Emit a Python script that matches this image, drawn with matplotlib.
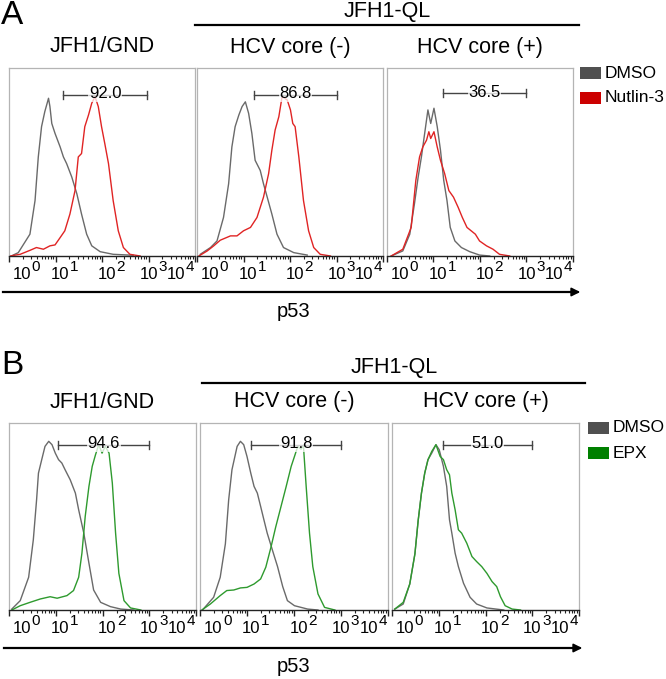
# Flow cytometry p53 histograms, panels A (Nutlin-3) and B (EPX)
import numpy as np
import matplotlib
matplotlib.use("Agg")
import matplotlib.pyplot as plt
from matplotlib.lines import Line2D
from matplotlib.patches import Rectangle
from matplotlib.ticker import LogLocator, NullFormatter

plt.rcParams['font.family'] = ['Liberation Sans', 'DejaVu Sans']

# x values are log10(fluorescence), y values are % of panel height
a1_dmso_x = [0.09, 0.2, 0.45, 0.56, 0.63, 0.70, 0.77, 0.85, 0.88, 0.92, 0.99, 1.10, 1.17, 1.24, 1.35, 1.46, 1.56, 1.67, 1.78, 1.96, 2.24, 2.67]
a1_dmso_y = [0.5, 1.8, 11.6, 29.5, 52.7, 68.8, 76.8, 83.9, 79.5, 70.5, 65.2, 58.0, 52.7, 49.1, 42.0, 33.0, 22.3, 11.6, 5.4, 2.3, 0.9, 0.4]
a1_drug_x = [0.02, 0.24, 0.45, 0.59, 0.74, 0.88, 0.99, 1.10, 1.20, 1.31, 1.42, 1.49, 1.56, 1.63, 1.71, 1.78, 1.85, 1.92, 1.99, 2.06, 2.14, 2.24, 2.35, 2.46, 2.60, 2.82]
a1_drug_y = [0, 0.9, 3.0, 4.5, 3.6, 5.4, 5.9, 9.8, 13.4, 22.3, 34.8, 52.7, 54.5, 68.8, 75.0, 81.3, 84.8, 79.5, 68.8, 59.8, 49.1, 29.5, 13.4, 4.5, 0.9, 0]

a2_dmso_x = [0.07, 0.29, 0.43, 0.57, 0.68, 0.75, 0.82, 0.90, 0.97, 1.04, 1.11, 1.18, 1.25, 1.36, 1.43, 1.51, 1.61, 1.72, 1.86, 2.08, 2.37]
a2_dmso_y = [0.9, 4.5, 8.0, 20.5, 38.4, 58.0, 68.8, 75.0, 79.5, 82.0, 75.9, 65.2, 50.9, 45.5, 38.4, 31.3, 22.3, 11.6, 4.5, 1.8, 0.5]
a2_drug_x = [0.04, 0.22, 0.36, 0.50, 0.72, 0.86, 1.0, 1.15, 1.29, 1.43, 1.54, 1.61, 1.68, 1.76, 1.83, 1.94, 2.01, 2.06, 2.11, 2.19, 2.29, 2.40, 2.51, 2.65, 2.87]
a2_drug_y = [0, 2.7, 5.4, 8.4, 10.7, 10.7, 13.4, 15.2, 20.5, 31.3, 43.8, 56.3, 67.0, 74.1, 84.8, 83.0, 77.7, 70.5, 68.8, 52.7, 29.5, 13.4, 4.5, 0.9, 0]

a3_dmso_x = [0.09, 0.34, 0.49, 0.59, 0.67, 0.74, 0.81, 0.88, 0.94, 1.01, 1.08, 1.15, 1.22, 1.29, 1.36, 1.46, 1.60, 1.78, 1.99, 2.21]
a3_dmso_y = [0, 2.7, 11.6, 27.7, 42.0, 52.7, 65.2, 77.7, 70.5, 78.6, 68.8, 56.3, 40.2, 29.5, 15.2, 8.0, 4.5, 2.3, 0.5, 0]
a3_drug_x = [0.09, 0.34, 0.52, 0.62, 0.70, 0.77, 0.85, 0.90, 0.94, 1.01, 1.08, 1.15, 1.24, 1.33, 1.43, 1.53, 1.62, 1.72, 1.81, 1.90, 1.99, 2.14, 2.28, 2.42, 2.64]
a3_drug_y = [0, 3.6, 15.2, 40.2, 52.7, 58.0, 61.6, 66.1, 62.5, 66.1, 58.0, 50.9, 43.8, 34.8, 31.3, 25.9, 20.5, 15.2, 13.4, 11.6, 8.0, 5.4, 3.6, 0.9, 0]

b1_dmso_x = [0.06, 0.24, 0.42, 0.52, 0.59, 0.63, 0.70, 0.77, 0.85, 0.92, 0.99, 1.06, 1.13, 1.20, 1.31, 1.42, 1.49, 1.60, 1.71, 1.81, 1.96, 2.17, 2.39, 2.67]
b1_dmso_y = [0.5, 5.0, 17.5, 37.5, 58.9, 73.2, 80.4, 87.5, 90.2, 88.4, 83.9, 80.4, 78.6, 75.0, 69.6, 62.5, 53.6, 41.1, 25.0, 10.7, 4.1, 1.8, 0.5, 0]
b1_drug_x = [0.06, 0.24, 0.45, 0.67, 0.88, 1.03, 1.24, 1.38, 1.49, 1.56, 1.63, 1.71, 1.78, 1.85, 1.92, 1.99, 2.06, 2.14, 2.21, 2.28, 2.35, 2.46, 2.60, 2.82]
b1_drug_y = [0, 2.3, 4.1, 5.9, 7.1, 6.3, 7.7, 10.4, 17.5, 30.4, 50.0, 66.1, 76.8, 83.0, 88.4, 83.9, 87.5, 83.9, 67.9, 41.1, 19.6, 5.0, 1.1, 0]

b2_dmso_x = [0.07, 0.29, 0.43, 0.54, 0.61, 0.68, 0.79, 0.86, 0.93, 1.0, 1.08, 1.15, 1.22, 1.29, 1.36, 1.43, 1.54, 1.65, 1.76, 1.86, 2.01, 2.29, 2.51]
b2_dmso_y = [0.5, 6.8, 17.5, 35.4, 58.9, 75.0, 87.5, 90.2, 88.4, 82.1, 73.2, 66.1, 62.5, 55.4, 48.2, 41.1, 32.1, 23.2, 12.5, 5.0, 2.3, 0.5, 0]
b2_drug_x = [0.04, 0.22, 0.43, 0.57, 0.72, 0.86, 1.0, 1.15, 1.29, 1.40, 1.51, 1.61, 1.72, 1.83, 1.94, 2.01, 2.08, 2.15, 2.20, 2.26, 2.33, 2.40, 2.51, 2.65, 2.87]
b2_drug_y = [0, 3.2, 7.7, 10.4, 10.7, 11.8, 12.1, 13.9, 16.6, 22.9, 33.6, 44.3, 55.0, 65.7, 76.8, 82.1, 87.5, 86.0, 88.0, 65.7, 41.1, 23.2, 8.6, 1.4, 0]

b3_dmso_x = [0.06, 0.24, 0.38, 0.49, 0.56, 0.63, 0.70, 0.77, 0.85, 0.94, 1.01, 1.10, 1.17, 1.23, 1.28, 1.35, 1.42, 1.53, 1.67, 1.81, 2.03, 2.39]
b3_dmso_y = [0.5, 3.2, 13.9, 30.0, 47.9, 62.5, 73.2, 80.4, 83.9, 88.4, 85.7, 76.8, 66.1, 48.2, 41.1, 30.4, 23.2, 14.3, 6.8, 3.2, 1.1, 0]
b3_drug_x = [0.06, 0.24, 0.38, 0.49, 0.56, 0.63, 0.70, 0.77, 0.85, 0.94, 1.03, 1.10, 1.17, 1.23, 1.28, 1.35, 1.42, 1.49, 1.60, 1.71, 1.81, 1.92, 2.03, 2.14, 2.24, 2.32, 2.42, 2.57, 2.75]
b3_drug_y = [0.5, 4.1, 13.9, 30.0, 47.9, 62.5, 73.2, 80.4, 84.8, 88.4, 82.1, 80.4, 75.0, 72.3, 62.5, 53.6, 42.9, 41.1, 35.7, 28.6, 25.9, 23.2, 19.6, 15.2, 12.5, 7.1, 2.3, 0.5, 0]

# gate: start, end (log10), height (%), percent label
a_gates = [(1.16, 2.97, 85.7, "92.0"), (1.23, 3.01, 85.7, "86.8"), (1.20, 3.00, 86.6, "36.5")]
b_gates = [(1.05, 3.00, 88.4, "94.6"), (1.09, 3.00, 88.4, "91.8"), (1.09, 3.00, 88.4, "51.0")]

panel_titles = ["JFH1/GND", "HCV core (-)", "HCV core (+)"]
decades = [0, 1, 2, 3, 4]
label_anchor = [0.48, 1.29, 2.30, 3.20, 3.79]

W, H = 666, 679
fig = plt.figure(figsize=(W / 100, H / 100), dpi=100)


def fx(x):
    return x / W


def fy(y):
    return 1 - y / H


grey_line = "#6a6a6a"
red_line = "#e02424"
green_line = "#2e9a2e"


def draw_panel(rect, dmso, drug, drug_color, gate, title):
    left, top, right, bottom = rect
    ax = fig.add_axes([fx(left), fy(bottom), fx(right - left), (bottom - top) / H])
    ax.plot(10 ** np.array(dmso[0]), dmso[1], color=grey_line, lw=1.0)
    ax.plot(10 ** np.array(drug[0]), drug[1], color=drug_color, lw=1.0)
    ax.set_xscale('log')
    ax.set_xlim(1, 1e4)
    ax.set_ylim(0, 100)
    ax.set_yticks([])
    for s in ['top', 'left', 'right']:
        ax.spines[s].set_color('#b4b4b4')
        ax.spines[s].set_linewidth(0.9)
    ax.spines['bottom'].set_color('#222222')
    ax.spines['bottom'].set_linewidth(1.0)
    ax.xaxis.set_major_locator(LogLocator(base=10, numticks=10))
    ax.xaxis.set_minor_locator(LogLocator(base=10, subs=np.arange(2, 10), numticks=10))
    ax.xaxis.set_major_formatter(NullFormatter())
    ax.xaxis.set_minor_formatter(NullFormatter())
    ax.tick_params(axis='x', which='major', direction='out', length=4, width=1.0, color='#222222')
    ax.tick_params(axis='x', which='minor', direction='out', length=2.5, width=0.8, color='#222222')
    # tick labels written as "10" plus raised exponent
    for d, a in zip(decades, label_anchor):
        ax.annotate("10", xy=(10 ** a, 0), xycoords=('data', 'axes fraction'),
                    xytext=(0, -13.5), textcoords='offset points',
                    ha='right', va='center', fontsize=12, annotation_clip=False)
        ax.annotate(str(d), xy=(10 ** a, 0), xycoords=('data', 'axes fraction'),
                    xytext=(0.3, -8.0), textcoords='offset points',
                    ha='left', va='center', fontsize=11, annotation_clip=False)
    # gate bar
    g0, g1, gy, glab = gate
    ax.plot([10 ** g0, 10 ** g1], [gy, gy], color='#444444', lw=1.0)
    for g in (g0, g1):
        ax.plot([10 ** g, 10 ** g], [gy - 2.2, gy + 2.2], color='#444444', lw=1.0)
    ax.text(10 ** ((g0 + g1) / 2), gy + 0.5, glab, ha='center', va='center', fontsize=12,
            bbox=dict(facecolor='white', edgecolor='none', alpha=0.75, pad=0.5))
    fig.text(fx((left + right) / 2), fy(top - 21), title, ha='center', va='center', fontsize=15.5)
    return ax


def hline(x0, x1, y, lw=1.6):
    fig.add_artist(Line2D([fx(x0), fx(x1)], [fy(y), fy(y)], color='black', lw=lw))


def arrow(x0, x1, y):
    fig.add_artist(Line2D([fx(x0), fx(x1 - 6)], [fy(y), fy(y)], color='black', lw=1.6))
    plt.annotate('', xy=(fx(x1), fy(y)), xytext=(fx(x1 - 10), fy(y)),
                 xycoords='figure fraction', textcoords='figure fraction',
                 arrowprops=dict(arrowstyle='-|>', color='black', lw=1.2, mutation_scale=13))


def legend(x, y_top, drug_label, drug_color):
    for i, (lab, col) in enumerate([("DMSO", "#505050"), (drug_label, drug_color)]):
        yt = y_top + i * 25
        fig.add_artist(Rectangle((fx(x), fy(yt + 12)), fx(21), 12 / H,
                                 facecolor=col, edgecolor='none', transform=fig.transFigure))
        fig.text(fx(x + 25), fy(yt + 6), lab, ha='left', va='center', fontsize=12.5)


# row A
a_rects = [(9, 68, 195, 256), (197, 68, 383, 256), (387, 68, 573, 256)]
a_data = [((a1_dmso_x, a1_dmso_y), (a1_drug_x, a1_drug_y)),
          ((a2_dmso_x, a2_dmso_y), (a2_drug_x, a2_drug_y)),
          ((a3_dmso_x, a3_dmso_y), (a3_drug_x, a3_drug_y))]
for rect, (dm, dr), gate, title in zip(a_rects, a_data, a_gates, panel_titles):
    draw_panel(rect, dm, dr, red_line, gate, title)

fig.text(fx(1), fy(16), "A", ha='left', va='center', fontsize=24)
fig.text(fx(387), fy(12), "JFH1-QL", ha='center', va='center', fontsize=15.5)
hline(195, 579, 25)
arrow(3, 583, 292)
fig.text(fx(293), fy(312), "p53", ha='center', va='center', fontsize=14.5)
legend(580, 67, "Nutlin-3", "#cc0000")

# row B
b_rects = [(9, 423, 196, 610), (200, 423, 388, 610), (392, 423, 579, 610)]
b_data = [((b1_dmso_x, b1_dmso_y), (b1_drug_x, b1_drug_y)),
          ((b2_dmso_x, b2_dmso_y), (b2_drug_x, b2_drug_y)),
          ((b3_dmso_x, b3_dmso_y), (b3_drug_x, b3_drug_y))]
for rect, (dm, dr), gate, title in zip(b_rects, b_data, b_gates, panel_titles):
    draw_panel(rect, dm, dr, green_line, gate, title)

fig.text(fx(1), fy(366), "B", ha='left', va='center', fontsize=24)
fig.text(fx(394), fy(367), "JFH1-QL", ha='center', va='center', fontsize=15.5)
hline(202, 585, 383)
arrow(4, 585, 648)
fig.text(fx(293), fy(667), "p53", ha='center', va='center', fontsize=14.5)
legend(588, 422, "EPX", "#008000")

fig.savefig("out.png", dpi=100)
